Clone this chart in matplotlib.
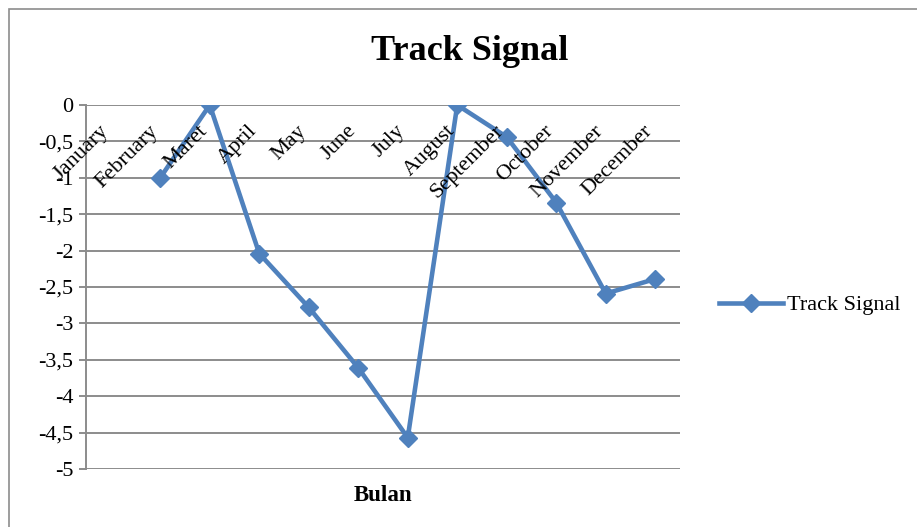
import numpy as np
import matplotlib
matplotlib.use("Agg")
import matplotlib.pyplot as plt
from matplotlib.patches import Rectangle
from matplotlib.ticker import FuncFormatter

# Monthly track signal values (January has no value)
months = ["January", "February", "Maret", "April", "May", "June", "July",
          "August", "September", "October", "November", "December"]
track_signal = [np.nan, -1.0, 0.0, -2.04, -2.78, -3.61, -4.57,
                0.0, -0.44, -1.34, -2.59, -2.39]
y_ticks = [0, -0.5, -1, -1.5, -2, -2.5, -3, -3.5, -4, -4.5, -5]

series_name = "Track Signal"
title = "Track Signal"
x_title = "Bulan"

line_color = "#4F81BD"
grid_color = "#8C8C8C"
serif = ["Liberation Serif", "DejaVu Serif"]

plt.rcParams["font.family"] = serif

fig = plt.figure(figsize=(9.17, 5.27), dpi=100)
fig.patch.set_facecolor("white")

# chart frame
fig.add_artist(Rectangle((9 / 917, -0.05), 1.05, 1 - 9 / 527 + 0.05,
                         transform=fig.transFigure, fill=False,
                         edgecolor="#8C8C8C", linewidth=1.2))

ax = fig.add_axes([86 / 917, 1 - 469 / 527, (680 - 86) / 917, (469 - 105) / 527])
x = np.arange(len(months))
ax.plot(x, track_signal, color=line_color, linewidth=3.3, marker="D",
        markersize=9.5, markerfacecolor=line_color, markeredgecolor=line_color,
        label=series_name, solid_joinstyle="miter")

ax.set_xlim(-0.5, len(months) - 0.5)
ax.set_ylim(-5, 0)
ax.set_yticks(y_ticks)
ax.yaxis.set_major_formatter(FuncFormatter(
    lambda v, p: ("%g" % v).replace(".", ",")))
ax.set_xticks([])
ax.grid(axis="y", color=grid_color, linewidth=1.4)
ax.set_axisbelow(True)
for side in ["top", "right", "bottom"]:
    ax.spines[side].set_visible(False)
ax.spines["left"].set_color(grid_color)
ax.spines["left"].set_linewidth(1.4)
ax.tick_params(axis="y", length=5, width=1.4, color=grid_color,
               labelsize=16, pad=4)

# rotated month labels hanging below the zero line
for i, m in enumerate(months):
    ax.annotate(m, xy=(i, 0), xytext=(1, -12), textcoords="offset points",
                rotation=45, ha="right", va="top", fontsize=16,
                rotation_mode="default", annotation_clip=False)

ax.text(0.5, -0.045, x_title, transform=ax.transAxes, ha="center",
        va="top", fontsize=16.5, fontweight="bold")

fig.text(470 / 917, 1 - 52 / 527, title, ha="center", va="center",
         fontsize=26, fontweight="bold")

leg = fig.legend(handles=ax.get_lines(), loc="center left",
                 bbox_to_anchor=(699 / 917, 1 - 305 / 527), frameon=False,
                 fontsize=16, handlelength=2.9, handletextpad=0.15)

fig.savefig("out.png", dpi=100)
